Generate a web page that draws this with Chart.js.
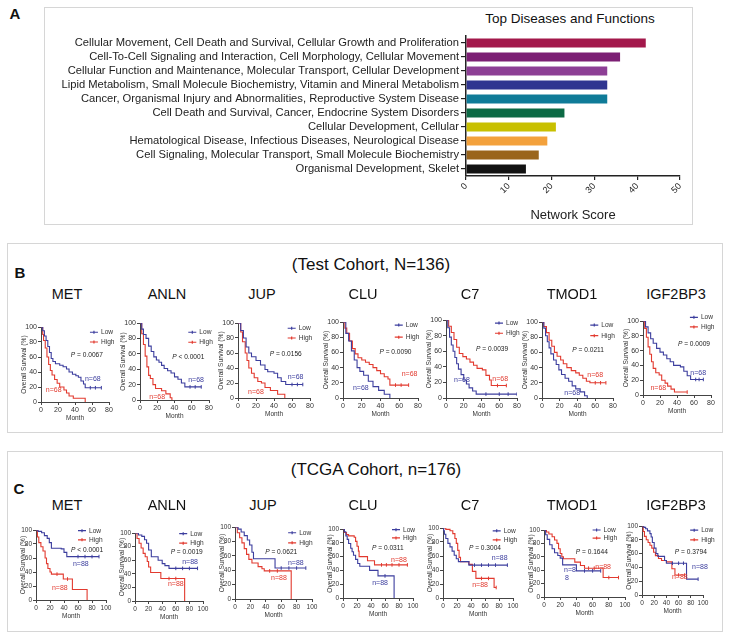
<!DOCTYPE html>
<html>
<head>
<meta charset="utf-8">
<script src="https://cdn.jsdelivr.net/npm/chart.js@4.4.0/dist/chart.umd.min.js"></script>
<style>
  body { margin: 0; background: #fff; width: 729px; height: 637px; position: relative; overflow: hidden;
         font-family: "Liberation Sans", Arial, sans-serif; color: #111; }
  .frame { position: absolute; border: 1.5px solid #d6d6d6; box-sizing: border-box; }
  .txt { position: absolute; white-space: nowrap; transform: translate(-50%, -50%); }
  .letter { font-weight: bold; font-size: 15px; }
  .gene { font-size: 14.5px; }
  .cohort { font-size: 17px; }
  canvas { position: absolute; }
</style>
</head>
<body>

<div class="frame" style="left:44px;top:7px;width:649px;height:218px"></div>
<div class="frame" style="left:7px;top:243px;width:716px;height:190px"></div>
<div class="frame" style="left:7px;top:451px;width:716px;height:181px"></div>

<div class="txt letter" style="left:15px;top:13px">A</div>
<div class="txt letter" style="left:20px;top:272px">B</div>
<div class="txt letter" style="left:19px;top:488px">C</div>

<div class="txt" style="left:570px;top:18px;font-size:13.5px">Top Diseases and Functions</div>
<div class="txt cohort" style="left:371px;top:265px">(Test Cohort, N=136)</div>
<div class="txt cohort" style="left:376px;top:470px">(TCGA Cohort, n=176)</div>

<canvas id="barA" width="649" height="218" style="left:44px;top:7px"></canvas>

<script>
/* ---------- Panel A data ---------- */
const diseaseLabels = [
  'Cellular Movement, Cell Death and Survival, Cellular Growth and Proliferation',
  'Cell-To-Cell Signaling and Interaction, Cell Morphology, Cellular Movement',
  'Cellular Function and Maintenance, Molecular Transport, Cellular Development',
  'Lipid Metabolism, Small Molecule Biochemistry, Vitamin and Mineral Metabolism',
  'Cancer, Organismal Injury and Abnormalities, Reproductive System Disease',
  'Cell Death and Survival, Cancer, Endocrine System Disorders',
  'Cellular Development, Cellular',
  'Hematological Disease, Infectious Diseases, Neurological Disease',
  'Cell Signaling, Molecular Transport, Small Molecule Biochemistry',
  'Organismal Development, Skelet'
];
const networkScores = [42, 36, 33, 33, 33, 23, 21, 19, 17, 14];
const barColors = ['#a3184b', '#7c1f74', '#8d3f95', '#2f3590', '#0f7b98',
                   '#0c6a45', '#c8c000', '#f3a13c', '#9a651c', '#121212'];
const scoreTicks = [0, 10, 20, 30, 40, 50];

/* ---------- Panels B / C data ---------- */
const genes = ['MET', 'ANLN', 'JUP', 'CLU', 'C7', 'TMOD1', 'IGF2BP3'];
const survivalTicks = [0, 20, 40, 60, 80, 100];
const testMonthTicks = [0, 20, 40, 60, 80];
const tcgaMonthTicks = [0, 20, 40, 60, 80, 100];
const testP = ['= 0.0067', '< 0.0001', '= 0.0156', '= 0.0090', '= 0.0039', '= 0.0211', '= 0.0009'];
const tcgaP = ['< 0.0001', '= 0.0019', '= 0.0621', '= 0.0311', '= 0.3004', '= 0.1644', '= 0.3794'];

// Kaplan-Meier curves: [month, survival % reached at that month]
// a point that repeats the previous survival value is a censored case (tick mark)
const testMET_low = [[0,100],[2,95],[4,88],[6,82],[8,74],[10,66],[12,58],[14,54],[17,51],[22,49],[26,47],[30,44],[33,40],[37,37],[41,35],[44,33],[47,28],[50,24],[52,19],[58,19],[64,19],[71,19]];
const testMET_high = [[0,100],[2,90],[3,82],[5,72],[7,60],[9,50],[11,42],[13,36],[16,30],[19,25],[22,20],[27,16],[30,12],[33,8],[38,5],[52,0]];
const testANLN_low = [[0,100],[2,92],[4,85],[7,80],[10,70],[13,63],[16,56],[19,52],[22,49],[25,45],[28,41],[32,38],[36,35],[40,30],[44,27],[48,22],[52,17],[58,17],[64,17],[71,17]];
const testANLN_high = [[0,100],[2,86],[4,72],[6,57],[8,43],[10,32],[12,28],[15,20],[18,15],[25,12],[30,8],[35,3],[37,0]];
const testJUP_low = [[0,100],[3,90],[6,80],[9,68],[12,60],[15,55],[20,50],[25,44],[30,38],[33,35],[40,33],[44,27],[48,22],[53,18],[60,18],[66,18],[72,18]];
const testJUP_high = [[0,100],[3,88],[5,75],[8,60],[10,50],[12,40],[15,33],[18,27],[22,22],[26,20],[30,14],[36,10],[44,5],[52,0]];
const testCLU_low = [[0,100],[3,85],[6,75],[9,62],[12,50],[15,40],[18,35],[22,30],[27,22],[32,15],[38,10],[44,5],[50,0]];
const testCLU_high = [[0,100],[2,92],[4,85],[7,75],[10,65],[13,58],[16,53],[20,50],[24,47],[28,44],[32,40],[36,36],[40,32],[44,28],[48,25],[50,17],[56,17],[62,17],[70,17]];
const testC7_low = [[0,100],[2,90],[4,78],[6,68],[8,60],[10,52],[12,44],[14,37],[17,30],[20,23],[23,18],[26,13],[30,9],[34,5],[45,5],[60,5],[70,5],[80,5]];
const testC7_high = [[0,100],[3,92],[6,84],[9,75],[12,65],[15,57],[19,53],[23,50],[27,46],[31,42],[35,38],[41,36],[45,29],[49,23],[51,16],[58,16],[68,16]];
const testTMOD1_low = [[0,100],[2,92],[4,82],[6,74],[8,66],[10,58],[13,50],[16,44],[19,37],[22,31],[26,26],[30,22],[34,16],[38,12],[43,8],[48,3],[51,0]];
const testTMOD1_high = [[0,100],[2,94],[5,86],[8,76],[11,68],[14,60],[17,55],[21,50],[24,45],[28,40],[33,36],[38,33],[42,30],[46,26],[50,22],[54,20],[60,20],[66,20],[72,20]];
const testIGF2BP3_low = [[0,100],[3,92],[6,84],[9,76],[12,70],[16,63],[20,58],[24,54],[28,49],[32,45],[36,40],[44,38],[48,32],[52,26],[56,21],[62,21],[66,21],[71,21]];
const testIGF2BP3_high = [[0,100],[2,90],[4,78],[6,65],[8,55],[10,45],[12,36],[15,30],[19,27],[22,20],[26,16],[29,12],[33,8],[37,4],[52,4]];

const tcgaMET_low = [[0,100],[3,98],[8,96],[12,92],[16,88],[19,82],[22,74],[36,73],[40,68],[44,62],[60,62],[70,62],[80,62],[90,62]];
const tcgaMET_high = [[0,100],[2,90],[4,82],[7,76],[10,70],[13,60],[15,52],[17,45],[20,40],[22,37],[30,37],[39,30],[45,30],[52,15],[73,0]];
const tcgaANLN_low = [[0,100],[5,97],[10,95],[14,90],[17,85],[20,75],[24,65],[34,60],[40,55],[44,52],[50,48],[60,48],[70,48],[80,48],[92,48]];
const tcgaANLN_high = [[0,100],[3,92],[6,85],[9,78],[12,70],[15,65],[18,58],[20,50],[23,42],[38,33],[50,33],[60,33],[73,0]];
const tcgaJUP_low = [[0,100],[4,97],[8,93],[12,88],[16,82],[19,75],[22,65],[24,56],[52,43],[60,43],[70,43],[80,43],[92,43]];
const tcgaJUP_high = [[0,100],[3,92],[6,85],[9,78],[12,70],[15,62],[18,55],[22,50],[30,45],[35,42],[38,39],[45,39],[55,39],[73,0]];
const tcgaCLU_low = [[0,100],[2,96],[4,90],[6,85],[8,79],[11,72],[13,67],[15,62],[18,56],[21,50],[24,46],[38,40],[50,32],[60,32],[73,0]];
const tcgaCLU_high = [[0,100],[2,95],[5,92],[8,90],[16,88],[18,82],[20,75],[22,68],[23,60],[35,54],[45,48],[55,48],[62,48],[70,48],[80,48],[92,48]];
const tcgaC7_low = [[0,100],[1,96],[2,91],[4,85],[7,78],[10,73],[13,67],[16,61],[19,56],[22,52],[37,47],[45,47],[55,47],[65,47],[75,47],[92,47]];
const tcgaC7_high = [[0,100],[4,98],[10,96],[14,92],[17,85],[19,78],[21,68],[23,58],[25,52],[37,48],[42,38],[47,28],[55,28],[65,28],[73,15],[76,15]];
const tcgaTMOD1_low = [[0,100],[2,93],[4,86],[7,78],[10,72],[13,66],[17,62],[20,58],[23,48],[40,39],[50,39],[60,39],[70,39]];
const tcgaTMOD1_high = [[0,100],[3,97],[6,94],[10,90],[13,85],[16,80],[18,72],[20,65],[22,60],[24,57],[38,52],[45,47],[50,43],[55,43],[62,43],[73,29],[80,29],[92,29]];
const tcgaIGF2BP3_low = [[0,100],[3,98],[6,96],[9,93],[13,89],[15,84],[17,76],[20,68],[23,60],[26,56],[37,50],[40,46],[50,46],[60,46],[68,46],[73,23],[92,23]];
const tcgaIGF2BP3_high = [[0,100],[2,92],[4,85],[7,80],[10,76],[13,72],[16,68],[19,62],[22,57],[27,53],[32,50],[40,48],[49,38],[54,29],[60,29],[70,29]];

const testCurves = [
  [testMET_low, testMET_high], [testANLN_low, testANLN_high], [testJUP_low, testJUP_high],
  [testCLU_low, testCLU_high], [testC7_low, testC7_high], [testTMOD1_low, testTMOD1_high],
  [testIGF2BP3_low, testIGF2BP3_high]
];
const tcgaCurves = [
  [tcgaMET_low, tcgaMET_high], [tcgaANLN_low, tcgaANLN_high], [tcgaJUP_low, tcgaJUP_high],
  [tcgaCLU_low, tcgaCLU_high], [tcgaC7_low, tcgaC7_high], [tcgaTMOD1_low, tcgaTMOD1_high],
  [tcgaIGF2BP3_low, tcgaIGF2BP3_high]
];

/* ---------- layout (page px) ---------- */
// plot area [left, top, right, bottom], gene title centre x
const testAreas = [[41,327,109,402],[140,323,209,400],[238,323,310,398],[343,322,418,398],
                   [446,320,517,398],[542,322,613,398],[643,321,711,395]];
const testTitleX = [67, 167, 262, 363, 470, 572, 676];
const tcgaAreas = [[36,530,106,600],[135,533,203,601],[235,527,312,599],[343,529,413,598],
                   [443,528,513,598],[544,530,625,597],[642,526,703,595]];
const tcgaTitleX = [67, 167, 263, 363, 470, 572, 676];

// annotation placement: legend [x frac, y frac Low, y frac High], p [month, %], n labels [month, %]
const testNotes = [
  {lg:[0.72,0.07,0.20], p:[54,63], nl:[61,31], nh:[15,16]},
  {lg:[0.70,0.12,0.25], p:[56,56], nl:[65,26], nh:[20,4]},
  {lg:[0.69,0.07,0.20], p:[53,59], nl:[64,28], nh:[20,8]},
  {lg:[0.69,0.04,0.20], p:[56,60], nl:[19,13], nh:[71,32]},
  {lg:[0.69,0.04,0.17], p:[52,62], nl:[18,23], nh:[61,24]},
  {lg:[0.68,0.04,0.18], p:[52,63], nl:[34,7],  nh:[60,30]},
  {lg:[0.69,-0.05,0.08], p:[60,69], nl:[65,30], nh:[18,9]}
];
const tcgaNotes = [
  {lg:[0.60,0.01,0.14], p:[73,71], nl:[64,51], nh:[34,17]},
  {lg:[0.65,0.01,0.15], p:[76,72], nl:[81,57], nh:[60,25]},
  {lg:[0.69,0.08,0.22], p:[60,65], nl:[79,50], nh:[57,29]},
  {lg:[0.70,0.01,0.13], p:[64,72], nl:[53,22], nh:[80,55]},
  {lg:[0.71,0.04,0.17], p:[60,71], nl:[81,57], nh:[53,19]},
  {lg:[0.60,0.00,0.12], p:[59,67], nl:[32,40], nh:[73,45], split:true},
  {lg:[0.79,0.06,0.20], p:[80,62], nl:[95,41], nh:[62,26]}
];

const BLUE = '#3c3e9e', RED = '#e23a2f';
const FONT = '"Liberation Sans", Arial, sans-serif';

Chart.defaults.font.family = FONT;
Chart.defaults.color = '#222';
Chart.defaults.animation = false;

/* ---------- Panel A: horizontal bar chart ---------- */
new Chart(document.getElementById('barA'), {
  type: 'bar',
  data: {
    labels: diseaseLabels,
    datasets: [{
      data: networkScores,
      backgroundColor: barColors,
      barPercentage: 0.66,
      categoryPercentage: 1
    }]
  },
  options: {
    indexAxis: 'y',
    responsive: false,
    layout: { padding: { top: 29, right: 13, left: 0, bottom: 0 } },
    plugins: { legend: { display: false }, tooltip: { enabled: false } },
    scales: {
      x: {
        min: 0, max: 50,
        afterBuildTicks: s => { s.ticks = scoreTicks.map(v => ({ value: v })); },
        afterFit: s => { s.height = 49; },
        ticks: { font: { size: 9 }, minRotation: 45, maxRotation: 45, padding: 1, color: '#222' },
        grid: { drawOnChartArea: false, tickLength: 4, color: '#222', lineWidth: 1.2 },
        border: { color: '#222', width: 1.5 },
        title: { display: true, text: 'Network Score', font: { size: 13 }, padding: { top: 0, bottom: 2 }, color: '#222' }
      },
      y: {
        afterFit: s => { s.width = 422; },
        ticks: { font: { size: 11.2 }, padding: 2, color: '#222', autoSkip: false },
        grid: { offset: false, drawOnChartArea: false, tickLength: 5, color: '#222', lineWidth: 1.2 },
        border: { color: '#222', width: 1.5 }
      }
    }
  }
});

/* ---------- Panels B / C: Kaplan-Meier plots ---------- */
const kmNotes = {
  id: 'kmNotes',
  afterDatasetsDraw(chart, args, o) {
    const { ctx, chartArea: a, scales: { x, y } } = chart;
    const fs = 6.6;
    ctx.save();
    ctx.textBaseline = 'middle';

    // legend
    const lx = a.left + o.lg[0] * (a.right - a.left);
    [['Low', BLUE, o.lg[1]], ['High', RED, o.lg[2]]].forEach(([t, c, fy]) => {
      const ly = a.top + fy * (a.bottom - a.top);
      ctx.strokeStyle = c;
      ctx.lineWidth = 1.2;
      ctx.beginPath();
      ctx.moveTo(lx, ly); ctx.lineTo(lx + 8, ly);
      ctx.moveTo(lx + 4, ly - 1.5); ctx.lineTo(lx + 4, ly + 1.5);
      ctx.stroke();
      ctx.fillStyle = '#333';
      ctx.font = fs + 'px ' + FONT;
      ctx.textAlign = 'left';
      ctx.fillText(t, lx + 11, ly);
    });

    // p value, italic P
    const px = x.getPixelForValue(o.p[0]), py = y.getPixelForValue(o.p[1]);
    ctx.font = 'italic ' + fs + 'px ' + FONT;
    const w1 = ctx.measureText('P ').width;
    ctx.font = fs + 'px ' + FONT;
    const w2 = ctx.measureText(o.pText).width;
    const x0 = px - (w1 + w2) / 2;
    ctx.fillStyle = '#222';
    ctx.textAlign = 'left';
    ctx.font = 'italic ' + fs + 'px ' + FONT;
    ctx.fillText('P', x0, py);
    ctx.font = fs + 'px ' + FONT;
    ctx.fillText(o.pText, x0 + w1, py);

    // group sizes
    ctx.textAlign = 'center';
    ctx.font = '7px ' + FONT;
    ctx.fillStyle = BLUE;
    if (o.split) {
      ctx.fillText('n=8', x.getPixelForValue(o.nl[0]), y.getPixelForValue(o.nl[1]));
      ctx.fillText('8', x.getPixelForValue(o.nl[0]) - 3, y.getPixelForValue(o.nl[1]) + 8);
    } else {
      ctx.fillText(o.nText, x.getPixelForValue(o.nl[0]), y.getPixelForValue(o.nl[1]));
    }
    ctx.fillStyle = RED;
    ctx.fillText(o.nText, x.getPixelForValue(o.nh[0]), y.getPixelForValue(o.nh[1]));
    ctx.restore();
  }
};

const PAD_T = 10, PAD_R = 20, X_H = 20;

function toPoints(pairs) {
  return pairs.map(([m, s]) => ({ x: m, y: s }));
}

// tick mark only where survival did not drop (censored case)
function censorRadius(c) {
  const d = c.dataset.data, i = c.dataIndex;
  return i > 0 && d[i].y === d[i - 1].y ? 1.8 : 0;
}

function kmChart(area, curves, note, pText, nText, monthTicks, yw, tickSize) {
  const w = area[2] - area[0], h = area[3] - area[1];
  const cv = document.createElement('canvas');
  cv.width = w + yw + PAD_R;
  cv.height = h + PAD_T + X_H;
  cv.style.left = (area[0] - yw) + 'px';
  cv.style.top = (area[1] - PAD_T) + 'px';
  document.body.appendChild(cv);

  const axisGrid = { display: true, drawOnChartArea: false, tickLength: 3, color: '#444', lineWidth: 1 };
  const axisBorder = { color: '#444', width: 1 };

  new Chart(cv, {
    type: 'line',
    data: {
      datasets: [
        { label: 'Low', data: toPoints(curves[0]), borderColor: BLUE, pointBorderColor: BLUE },
        { label: 'High', data: toPoints(curves[1]), borderColor: RED, pointBorderColor: RED }
      ].map(d => Object.assign(d, {
        stepped: 'before', borderWidth: 1.1, fill: false,
        pointStyle: 'line', pointRotation: 90, pointRadius: censorRadius, pointBorderWidth: 1
      }))
    },
    options: {
      responsive: false,
      layout: { padding: { top: PAD_T, right: PAD_R, left: 0, bottom: 0 } },
      plugins: {
        legend: { display: false },
        tooltip: { enabled: false },
        kmNotes: Object.assign({ pText: pText, nText: nText }, note)
      },
      scales: {
        x: {
          type: 'linear', min: 0, max: monthTicks[monthTicks.length - 1],
          afterBuildTicks: s => { s.ticks = monthTicks.map(v => ({ value: v })); },
          afterFit: s => { s.height = X_H; },
          ticks: { font: { size: tickSize }, padding: 1, color: '#333', maxRotation: 0, autoSkip: false },
          grid: axisGrid, border: axisBorder,
          title: { display: true, text: 'Month', font: { size: 6.5 }, padding: 0, color: '#333' }
        },
        y: {
          min: 0, max: 100,
          afterBuildTicks: s => { s.ticks = survivalTicks.map(v => ({ value: v })); },
          afterFit: s => { s.width = yw; },
          ticks: { font: { size: tickSize }, padding: 1, color: '#333', autoSkip: false },
          grid: axisGrid, border: axisBorder,
          title: { display: true, text: 'Overall Survival (%)', font: { size: 6.6 }, padding: 0, color: '#333' }
        }
      }
    },
    plugins: [kmNotes]
  });
}

function geneTitle(txt, x, y) {
  const d = document.createElement('div');
  d.className = 'txt gene';
  d.style.left = x + 'px';
  d.style.top = y + 'px';
  d.textContent = txt;
  document.body.appendChild(d);
}

genes.forEach((g, i) => {
  geneTitle(g, testTitleX[i], 294);
  kmChart(testAreas[i], testCurves[i], testNotes[i], testP[i], 'n=68', testMonthTicks, 21, 7);
  geneTitle(g, tcgaTitleX[i], 505);
  kmChart(tcgaAreas[i], tcgaCurves[i], tcgaNotes[i], tcgaP[i], 'n=88', tcgaMonthTicks, 17, 6.5);
});
</script>
</body>
</html>
